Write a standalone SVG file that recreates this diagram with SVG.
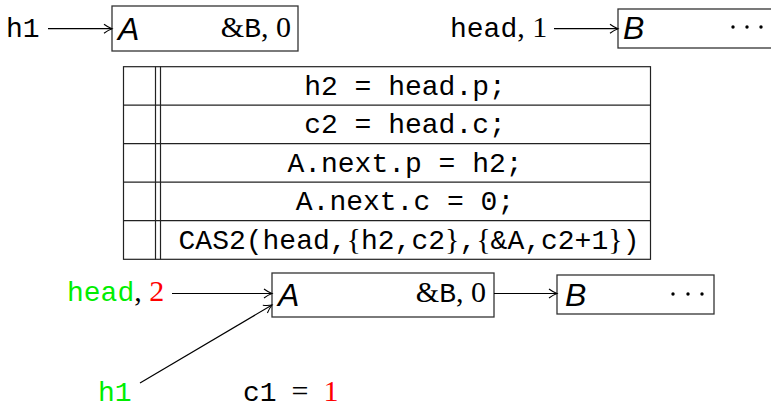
<svg xmlns="http://www.w3.org/2000/svg" width="771" height="408" viewBox="0 0 771 408">
<defs>
<marker id="arr" markerUnits="userSpaceOnUse" markerWidth="14" markerHeight="12" refX="10" refY="6" orient="auto">
<path d="M 2 1.5 Q 6 4.5 10 6 Q 6 7.5 2 10.5" fill="none" stroke="#000" stroke-width="1.1"/>
</marker>
</defs>
<style>
.box{fill:#fff;stroke:#333;stroke-width:1.3}
.tt{font-family:"Liberation Mono","DejaVu Sans Mono",monospace;font-size:28px;fill:#000}
.rm{font-family:"Liberation Serif","DejaVu Serif",serif;font-size:30px}
.it{font-family:"Liberation Sans","DejaVu Sans",sans-serif;font-style:italic;font-size:32px}
.ln{stroke:#000;stroke-width:1.2;fill:none}
.tb{stroke:#222;stroke-width:1.2;fill:none}
.g{fill:#00ee00}
.r{fill:#ff0000}
</style>

<g id="label-h1-top"><text class="tt" x="6" y="37">h1</text></g>
<g id="nodeA-top">
<rect class="box" x="112" y="6" width="186" height="45"/>
<text class="it" x="118" y="40">A</text>
<text x="291" y="37" text-anchor="end"><tspan class="rm">&amp;</tspan><tspan class="tt">B</tspan><tspan class="rm">, 0</tspan></text>
</g>
<g id="label-head1"><text x="450" y="37"><tspan class="tt">head</tspan><tspan class="rm">, 1</tspan></text></g>
<g id="nodeB-top">
<rect class="box" x="618" y="9" width="160" height="39"/>
<text class="it" x="623" y="39">B</text>
<g fill="#000"><circle cx="733" cy="27" r="1.7"/><circle cx="747" cy="27" r="1.7"/><circle cx="761" cy="27" r="1.7"/></g>
</g>

<g id="table">
<rect class="tb" x="123.5" y="66.7" width="527" height="192.6"/>
<line class="tb" x1="155.5" y1="66.7" x2="155.5" y2="259.3"/>
<line class="tb" x1="160.5" y1="66.7" x2="160.5" y2="259.3"/>
<line class="tb" x1="123.5" y1="105.2" x2="650.5" y2="105.2"/>
<line class="tb" x1="123.5" y1="143.7" x2="650.5" y2="143.7"/>
<line class="tb" x1="123.5" y1="182.2" x2="650.5" y2="182.2"/>
<line class="tb" x1="123.5" y1="220.7" x2="650.5" y2="220.7"/>
<text class="tt" x="405" y="94.5" text-anchor="middle">h2 = head.p;</text>
<text class="tt" x="405" y="133" text-anchor="middle">c2 = head.c;</text>
<text class="tt" x="405" y="171.5" text-anchor="middle">A.next.p = h2;</text>
<text class="tt" x="405" y="210" text-anchor="middle">A.next.c = 0;</text>
<text class="tt" x="409" y="248.5" text-anchor="middle">CAS2(head,<tspan class="rm">{</tspan>h2,c2<tspan class="rm">}</tspan>,<tspan class="rm">{</tspan>&amp;A,c2+1<tspan class="rm">}</tspan>)</text>
</g>

<g id="label-head2"><text x="67" y="301"><tspan class="tt g">head</tspan><tspan class="rm">, </tspan><tspan class="rm r">2</tspan></text></g>
<g id="nodeA-bottom">
<rect class="box" x="272" y="273" width="222" height="44"/>
<text class="it" x="278" y="306">A</text>
<text x="486" y="302" text-anchor="end"><tspan class="rm">&amp;</tspan><tspan class="tt">B</tspan><tspan class="rm">, 0</tspan></text>
</g>
<g id="nodeB-bottom">
<rect class="box" x="557" y="275" width="157" height="39"/>
<text class="it" x="565" y="306">B</text>
<g fill="#000"><circle cx="673" cy="294" r="1.7"/><circle cx="688" cy="294" r="1.7"/><circle cx="702" cy="294" r="1.7"/></g>
</g>
<g id="label-h1-bottom"><text class="tt g" x="98" y="401">h1</text></g>
<g id="label-c1"><text x="243" y="401"><tspan class="tt">c1</tspan><tspan class="rm" xml:space="preserve">  =  </tspan><tspan class="rm r">1</tspan></text></g>

<g id="connectors">
<line class="ln" x1="48" y1="28.7" x2="112" y2="28.7" marker-end="url(#arr)"/>
<line class="ln" x1="554" y1="28.7" x2="618" y2="28.7" marker-end="url(#arr)"/>
<line class="ln" x1="172" y1="293.5" x2="272" y2="293.5" marker-end="url(#arr)"/>
<line class="ln" x1="494" y1="293.5" x2="557" y2="293.5" marker-end="url(#arr)"/>
<line class="ln" x1="140" y1="383" x2="272" y2="305" marker-end="url(#arr)"/>
</g>
</svg>
